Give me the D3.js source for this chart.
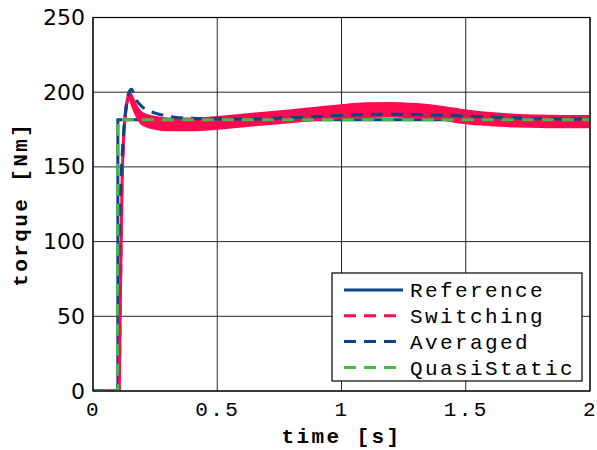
<!DOCTYPE html>
<html><head><meta charset="utf-8">
<script src="https://cdn.jsdelivr.net/npm/d3@7"></script>
<style>
body{margin:0;background:#fff;}
svg{display:block;}
</style></head>
<body><svg id="c" width="597" height="450"></svg>
<script>
// ---- data ----
const xTicks = [0, 0.5, 1, 1.5, 2];
const xTickLabels = ["0", "0.5", "1", "1.5", "2"];
const yTicks = [0, 50, 100, 150, 200, 250];
const yTickLabels = ["0", "50", "100", "150", "200", "250"];
const seriesNames = ["Reference", "Switching", "Averaged", "QuasiStatic"];

const referenceT = [0, 0.1, 0.1, 2];
const referenceV = [0, 0, 181.5, 181.5];

const quasiT = [0, 0.1, 0.1, 2];
const quasiV = [0, 0, 181.5, 181.5];

const averagedT = [0, 0.1, 0.105, 0.115, 0.13, 0.145, 0.155, 0.17, 0.2, 0.25, 0.3, 0.4, 0.6, 0.8, 1.0, 1.15, 1.3, 1.5, 1.75, 2.0];
const averagedV = [0, 0, 100, 150, 185, 200, 202, 196, 190, 186, 184, 182.5, 182, 183, 184.5, 185.3, 185, 184, 182.5, 182];

const switchingT = [0, 0.105, 0.11, 0.117, 0.125, 0.135, 0.148, 0.16, 0.18, 0.2, 0.25, 0.3, 0.4, 0.5, 0.6, 0.7, 0.8, 0.9, 1.0, 1.1, 1.2, 1.3, 1.4, 1.5, 1.6, 1.7, 1.8, 1.9, 2.0];
const switchingV = [0, 0, 60, 140, 175, 192, 198, 193, 186, 182, 179.5, 178.5, 178.5, 179.5, 181, 182.5, 184, 185.5, 187, 188, 188.3, 187.5, 186, 183.5, 182, 181, 180.5, 180.3, 180.3];
const switchingRipple = [0, 0, 0, 0, 0, 0.5, 1.5, 2.5, 3, 3.5, 3.6, 3.6, 3.6, 3.6, 3.6, 3.6, 3.6, 3.8, 4, 4.2, 4.2, 4.2, 4, 4, 3.8, 3.6, 3.5, 3.4, 3.4];

// ---- layout ----
const W = 597, H = 450;
const m = {l: 93, r: 7, t: 17.5, b: 59};
const svg = d3.select("#c");
const x = d3.scaleLinear().domain([0, 2]).range([m.l, W - m.r]);
const y = d3.scaleLinear().domain([0, 250]).range([H - m.b, m.t]);

const colRef = "#0a4585", colSw = "#ff0a50", colAvg = "#0a4585", colQs = "#44bb44";
const mono = "'Liberation Mono', 'Courier New', monospace";

// grid
const g = svg.append("g");
g.selectAll(".gx").data(xTicks).enter().append("line")
  .attr("x1", d => x(d)).attr("x2", d => x(d)).attr("y1", y(0)).attr("y2", y(250))
  .attr("stroke", "#262626").attr("stroke-width", 1);
g.selectAll(".gy").data(yTicks).enter().append("line")
  .attr("x1", x(0)).attr("x2", x(2)).attr("y1", d => y(d)).attr("y2", d => y(d))
  .attr("stroke", "#262626").attr("stroke-width", 1);

// axes using d3 axis (labels styled)
const xAxis = svg.append("g").attr("transform", `translate(0,${y(0)})`)
  .call(d3.axisBottom(x).tickValues(xTicks).tickFormat((d, i) => xTickLabels[i]).tickSize(0).tickPadding(10));
xAxis.select(".domain").remove();
xAxis.selectAll("text").attr("font-family", mono).attr("font-size", 21).attr("letter-spacing", 2.4).attr("fill", "#000")
  .attr("dy", "0.71em");

const yAxis = svg.append("g").attr("transform", `translate(${x(0)},0)`)
  .call(d3.axisLeft(y).tickValues(yTicks).tickFormat((d, i) => yTickLabels[i]).tickSize(0).tickPadding(8));
yAxis.select(".domain").remove();
yAxis.selectAll("text").attr("font-family", "'DejaVu Sans', sans-serif").attr("font-size", 22).attr("fill", "#000");

// lines
const clip = svg.append("clipPath").attr("id", "pc").append("rect")
  .attr("x", x(0)).attr("y", y(250)).attr("width", x(2) - x(0)).attr("height", y(0) - y(250));
const plot = svg.append("g").attr("clip-path", "url(#pc)");

const mk = (T, V) => T.map((t, i) => [t, V[i]]);
const line = d3.line().x(d => x(d[0])).y(d => y(d[1]));

plot.append("path").datum(mk(referenceT, referenceV)).attr("d", line)
  .attr("fill", "none").attr("stroke", colRef).attr("stroke-width", 3);

const band = switchingT.map((t, i) => ({t, lo: switchingV[i] - switchingRipple[i], hi: switchingV[i] + switchingRipple[i]}));
plot.append("path").datum(band)
  .attr("d", d3.area().x(d => x(d.t)).y0(d => y(d.lo)).y1(d => y(d.hi)).curve(d3.curveMonotoneX))
  .attr("fill", colSw).attr("stroke", colSw).attr("stroke-width", 3);
plot.append("path").datum(mk(switchingT, switchingV)).attr("d", line)
  .attr("fill", "none").attr("stroke", colSw).attr("stroke-width", 3).attr("stroke-dasharray", "12,8");

plot.append("path").datum(mk(averagedT, averagedV)).attr("d", line.curve(d3.curveMonotoneX))
  .attr("fill", "none").attr("stroke", colAvg).attr("stroke-width", 3).attr("stroke-dasharray", "12,8");
line.curve(d3.curveLinear);

plot.append("path").datum(mk(quasiT, quasiV)).attr("d", line)
  .attr("fill", "none").attr("stroke", colQs).attr("stroke-width", 3).attr("stroke-dasharray", "12,8");

// frame
svg.append("rect").attr("x", x(0)).attr("y", y(250)).attr("width", x(2) - x(0)).attr("height", y(0) - y(250))
  .attr("fill", "none").attr("stroke", "#000").attr("stroke-width", 1.2);

// axis titles
svg.append("text").attr("x", (x(0) + x(2)) / 2).attr("y", 443).attr("text-anchor", "middle")
  .attr("font-family", mono).attr("font-weight", "bold").attr("font-size", 21).attr("letter-spacing", 2.4)
  .text("time [s]");
svg.append("text").attr("transform", `translate(27,${(y(0) + y(250)) / 2}) rotate(-90)`).attr("text-anchor", "middle")
  .attr("font-family", mono).attr("font-weight", "bold").attr("font-size", 21).attr("letter-spacing", 2.4)
  .text("torque [Nm]");

// legend
const lg = svg.append("g");
lg.append("rect").attr("x", 332).attr("y", 273).attr("width", 250).attr("height", 108)
  .attr("fill", "#fff").attr("stroke", "#000").attr("stroke-width", 1.2);
const legStyles = [
  {c: colRef, dash: null}, {c: colSw, dash: "12,8"}, {c: colAvg, dash: "12,8"}, {c: colQs, dash: "12,8"}
];
seriesNames.forEach((n, i) => {
  const cy = 290 + i * 25.8;
  const ln = lg.append("line").attr("x1", 344).attr("x2", 403).attr("y1", cy).attr("y2", cy)
    .attr("stroke", legStyles[i].c).attr("stroke-width", 3);
  if (legStyles[i].dash) ln.attr("stroke-dasharray", legStyles[i].dash);
  lg.append("text").attr("x", 410).attr("y", cy).attr("dy", "0.35em")
    .attr("font-family", mono).attr("font-size", 21).attr("letter-spacing", 2.4).text(n);
});
</script></body></html>
